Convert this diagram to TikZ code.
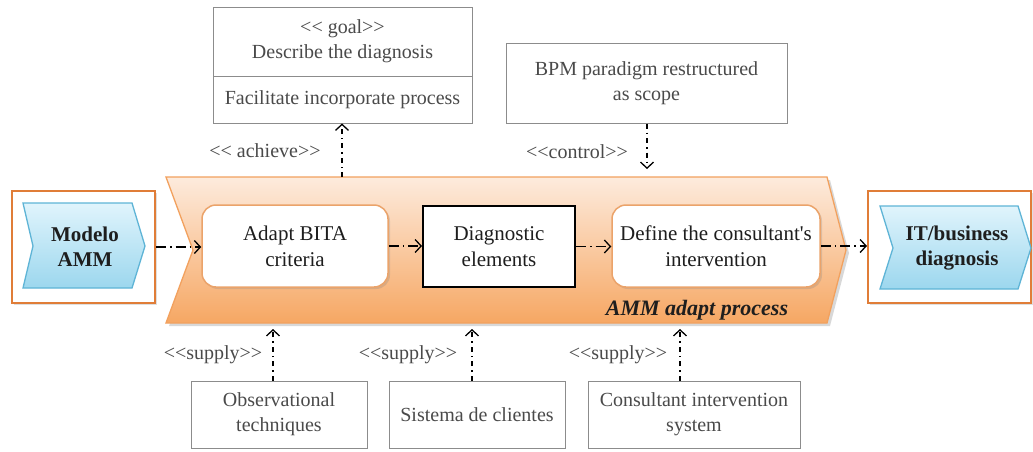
\documentclass[tikz,border=0pt]{standalone}
\usepackage{fontspec}
\setmainfont{Liberation Serif}[Ligatures=TeXOff]
\usetikzlibrary{arrows.meta,shadows,calc}
\definecolor{orgline}{HTML}{F2A15E}
\definecolor{orgtop}{HTML}{FDEBDD}
\definecolor{orgbot}{HTML}{F6A763}
\definecolor{outerline}{HTML}{E07D38}
\definecolor{roundline}{HTML}{EBA36A}
\definecolor{bluetop}{HTML}{E0F4FC}
\definecolor{bluebot}{HTML}{9CD7EE}
\definecolor{blueline}{HTML}{5EB4D6}
\definecolor{greyline}{HTML}{8C8C8C}
\definecolor{greytext}{HTML}{4A4A4A}
\definecolor{darktext}{HTML}{1E1E1E}
\newcommand\mylt{<\kern0pt<}
\newcommand\mygt{>\kern0pt>}
\begin{document}
\begin{tikzpicture}[x=1pt,y=-1pt,
  every node/.style={font=\fontsize{20}{25}\selectfont, align=center, inner sep=0pt},
  periph/.style={draw=greyline, line width=1pt, fill=white, text=greytext},
  lbl/.style={text=greytext},
  innertxt/.style={text=darktext, font=\fontsize{21}{26}\selectfont},
  roundbox/.style={draw=roundline, line width=1.5pt, fill=white, rounded corners=14pt,
    drop shadow={opacity=0.25, shadow xshift=2pt, shadow yshift=-2pt}},
  outerbox/.style={draw=outerline, line width=2pt, fill=white,
    drop shadow={opacity=0.25, shadow xshift=2pt, shadow yshift=-2pt}},
  orangechev/.style={draw=orgline, line width=1.3pt, top color=orgtop, bottom color=orgbot,
    drop shadow={opacity=0.3, shadow xshift=3pt, shadow yshift=-3pt}},
  bluechev/.style={draw=blueline, line width=1.3pt, top color=bluetop, bottom color=bluebot},
  boldtxt/.style={text=darktext, font=\bfseries\fontsize{21}{25}\selectfont},
  flow/.style={draw=black, line width=1.3pt, dash pattern=on 10pt off 4pt on 1.5pt off 4pt,
    -{Straight Barb[length=6pt,width=13pt,line width=1.3pt]}},
  vflow/.style={draw=black, line width=1.3pt, dash pattern=on 5pt off 4pt on 1.5pt off 4pt,
    -{Straight Barb[length=6pt,width=13pt,line width=1.3pt]}}
]
\useasboundingbox (0,0) rectangle (1033,451);
\fill[white] (0,0) rectangle (1033,451);

% main orange chevron
\path[orangechev] (166,177) -- (827,177) -- (846,250) -- (827,323) -- (166,323) -- (193,250) -- cycle;

% outer boxes
\node[outerbox, minimum width=143pt, minimum height=112pt] (modelobox) at (83.5,247) {};
\node[outerbox, minimum width=163pt, minimum height=112pt] (itbox) at (949.5,247) {};
\path[bluechev] (23,203) -- (132,203) -- (145,246) -- (132,288) -- (23,288) -- (33,246) -- cycle;
\path[bluechev] (880,206) -- (1018,206) -- (1031,248) -- (1018,289) -- (880,289) -- (893,248) -- cycle;
\node[boldtxt] (modelo) at (85,247) {Modelo\\AMM};
\node[boldtxt] (itdiag) at (957,248) {IT/business\\diagnosis};

% inner process boxes
\node[roundbox, innertxt, minimum width=186pt, minimum height=82pt] (adapt) at (295,246) {Adapt BITA\\criteria};
\node[draw=black, line width=2pt, fill=white, innertxt, minimum width=152pt, minimum height=81pt] (diag) at (499,246.5) {Diagnostic\\elements};
\node[roundbox, innertxt, minimum width=208pt, minimum height=82pt] (define) at (716,246) {Define the consultant's\\intervention};
\node[font=\bfseries\itshape\fontsize{22}{26}\selectfont, text=darktext] (amm) at (697,310) {AMM adapt process};

% top boxes
\node[periph, minimum width=259pt, minimum height=69pt] (goalA) at (342.5,41.5) {\mylt\ goal\mygt\\Describe the diagnosis};
\node[periph, minimum width=259pt, minimum height=47pt] (goalB) at (342.5,99.5) {Facilitate incorporate process};
\node[periph, minimum width=281pt, minimum height=80pt] (bpm) at (646.5,83) {BPM paradigm restructured\\as scope};

% bottom boxes
\node[periph, minimum width=176pt, minimum height=67pt] (obs) at (279,414.5) {Observational\\techniques};
\node[periph, minimum width=176pt, minimum height=67pt] (sist) at (477,414.5) {Sistema de clientes};
\node[periph, minimum width=212pt, minimum height=67pt] (cons) at (694,414.5) {Consultant intervention\\system};

% horizontal flows
\draw[flow] (modelobox.east) -- (modelobox.east -| adapt.west);
\draw[flow] (adapt.east) -- (adapt.east -| diag.west);
\draw[flow] (diag.east) -- (diag.east -| define.west);
\draw[flow] (define.east) -- (define.east -| itbox.west);

% vertical flows
\coordinate (achT) at (342,177);
\draw[vflow] (achT) -- (achT |- goalB.south);
\coordinate (ctlE) at (647,169);
\draw[vflow] (bpm.south -| ctlE) -- (ctlE);
\coordinate (s1) at (273,329);
\coordinate (s2) at (472,329);
\coordinate (s3) at (680,329);
\draw[vflow] (obs.north -| s1) -- (s1);
\draw[vflow] (sist.north -| s2) -- (s2);
\draw[vflow] (cons.north -| s3) -- (s3);

% labels
\node[lbl] (achlbl) at (265,151) {\mylt\ achieve\mygt};
\node[lbl] (ctllbl) at (577,152) {\mylt control\mygt};
\node[lbl] (sup1) at (213,355) {\mylt supply\mygt};
\node[lbl] (sup2) at (408,355) {\mylt supply\mygt};
\node[lbl] (sup3) at (618,355) {\mylt supply\mygt};
\end{tikzpicture}
\end{document}
